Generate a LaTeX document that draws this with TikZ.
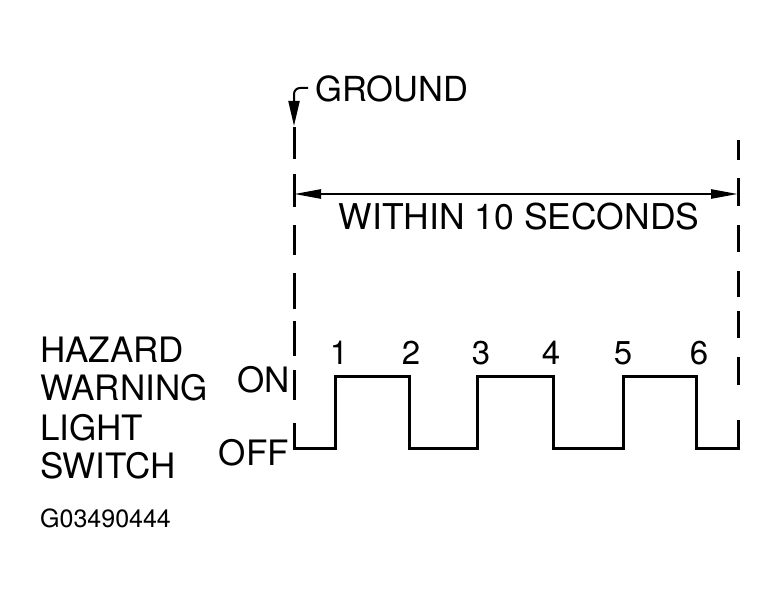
\documentclass[tikz,border=0pt]{standalone}
\usepackage{fontspec}
\setmainfont{TeX Gyre Heros}
\usetikzlibrary{arrows.meta}
\begin{document}
\begin{tikzpicture}[x=1pt,y=-1pt,
  lbl/.style={inner sep=0pt, font=\fontsize{35}{35}\selectfont},
  num/.style={inner sep=0pt, font=\fontsize{33}{33}\selectfont, anchor=base},
  wave/.style={line width=3pt, line join=miter},
  guide/.style={line width=3pt},
  dimarrow/.style={line width=2.5pt, {Triangle[length=27pt,width=9pt]}-{Triangle[length=27pt,width=9pt]}},
  gndarrow/.style={line width=2pt, rounded corners=6pt, -{Triangle[length=25pt,width=11pt]}}]
\useasboundingbox (0,0) rectangle (778,599);
% texts
\node[lbl, font=\fontsize{34.5}{34.5}\selectfont, anchor=base west] (gnd) at (315,102) {GROUND};
\node[lbl, font=\fontsize{35.5}{35.5}\selectfont, anchor=base] (within) at (519,229) {WITHIN 10 SECONDS};
\node[lbl, anchor=base west] (t1) at (40,362) {HAZARD};
\node[lbl, anchor=base west] (t2) at (40,400) {WARNING};
\node[lbl, anchor=base west] (t3) at (40,440) {LIGHT};
\node[lbl, anchor=base west] (t4) at (40,478) {SWITCH};
\node[lbl, anchor=base east] (on) at (290,392) {ON};
\node[lbl, anchor=base east] (off) at (289,465) {OFF};
\node[inner sep=0pt, font=\fontsize{25}{25}\selectfont, anchor=base west] (code) at (40,527) {G03490444};
\node[num] (n1) at (339,364) {1};
\node[num] (n2) at (411,364) {2};
\node[num] (n3) at (481,364) {3};
\node[num] (n4) at (551,364) {4};
\node[num] (n5) at (623,364) {5};
\node[num] (n6) at (699,364) {6};
% ground arrow
\coordinate (gs) at (308,88);
\coordinate (ge) at (294,126);
\draw[gndarrow] (gs) -| (ge);
% dashed guide lines
\foreach \a/\b in {127/159, 174/207, 225/255, 273/309, 321/356, 370/400}
  \draw[guide] (294,\a) -- (294,\b);
\foreach \a/\b in {140/160, 178/206, 225/252, 271/297, 311/338, 357/385}
  \draw[guide] (738,\a) -- (738,\b);
% dimension arrow
\coordinate (dl) at (294,194);
\coordinate (dr) at (738,194);
\draw[dimarrow] (dl) -- (dr);
% waveform
\draw[wave] (294,423) -- (294,448) -- (335,448) -- (335,376) -- (409,376) -- (409,448)
  -- (477,448) -- (477,376) -- (553,376) -- (553,448) -- (623,448) -- (623,376)
  -- (696,376) -- (696,448) -- (738,448) -- (738,420);
\end{tikzpicture}
\end{document}
